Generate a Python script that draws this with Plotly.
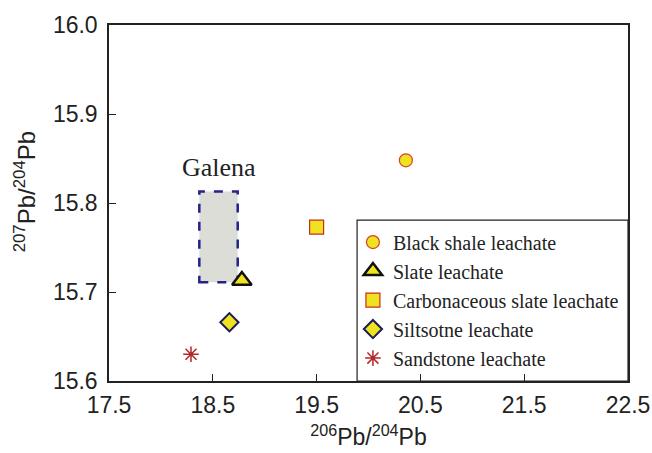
import plotly.graph_objects as go

names = ["Black shale leachate", "Slate leachate", "Carbonaceous slate leachate",
         "Siltsotne leachate", "Sandstone leachate"]
x_vals = [20.36, 18.78, 19.50, 18.66, 18.29]
y_vals = [15.848, 15.713, 15.773, 15.666, 15.630]
symbols = ["circle", "triangle-up", "square", "diamond", "asterisk-open"]
sizes = [13, 17, 14, 14, 13]
fills = ["#efe21e", "#efe21e", "#efe21e", "#efe21e", "#b3262a"]
lines = ["#d9402a", "#111111", "#cc2a22", "#1c1c5a", "#b3262a"]
lwidths = [1.2, 2.5, 1.2, 2, 1.5]

galena_x = [18.37, 18.74]
galena_y = [15.711, 15.813]
galena_label = "Galena"

x_ticks = [17.5, 18.5, 19.5, 20.5, 21.5, 22.5]
y_ticks = [15.6, 15.7, 15.8, 15.9, 16.0]

fig = go.Figure()
for i in range(len(names)):
    fig.add_trace(go.Scatter(
        x=[x_vals[i]], y=[y_vals[i]], mode="markers", name=names[i],
        marker=dict(symbol=symbols[i], size=sizes[i], color=fills[i],
                    line=dict(color=lines[i], width=lwidths[i]))))

fig.add_shape(type="rect", xref="x", yref="y",
              x0=galena_x[0], x1=galena_x[1], y0=galena_y[0], y1=galena_y[1],
              fillcolor="#dcddd6", line=dict(color="#23238a", width=2.5, dash="dash"),
              layer="below")
fig.add_annotation(x=(galena_x[0] + galena_x[1]) / 2, y=15.840, text=galena_label,
                   showarrow=False, xref="x", yref="y",
                   font=dict(family="Liberation Serif", size=26, color="#222"))

# legend box
fig.add_shape(type="rect", xref="paper", yref="paper", x0=0.478, x1=1.0, y0=0.0, y1=0.452,
              line=dict(color="#222", width=1.2), fillcolor="white", layer="below")

# y axis title
fig.add_annotation(xref="paper", yref="paper", x=0, y=0.53, xshift=-84,
                   xanchor="center", yanchor="middle",
                   text="<sup>207</sup>Pb/<sup>204</sup>Pb", textangle=-90, showarrow=False,
                   font=dict(family="Liberation Sans", size=24, color="#222"))

axis_common = dict(showline=True, linecolor="#222", linewidth=1.5, mirror=True,
                   ticks="inside", ticklen=7, tickcolor="#222", tickwidth=1.2,
                   showgrid=False, zeroline=False, automargin=False,
                   tickfont=dict(family="Liberation Sans", size=23, color="#222"))

fig.update_layout(
    width=652, height=453,
    margin=dict(l=109, r=24, t=25, b=72),
    plot_bgcolor="white", paper_bgcolor="white",
    xaxis=dict(range=[17.5, 22.5], tickvals=x_ticks, ticktext=[f"{v:.1f}" for v in x_ticks],
               ticklabelstandoff=3,
               title=dict(text="<sup>206</sup>Pb/<sup>204</sup>Pb", standoff=12,
                          font=dict(family="Liberation Sans", size=23, color="#222")),
               **axis_common),
    yaxis=dict(range=[15.6, 16.0], tickvals=y_ticks, ticktext=[f"{v:.1f}" for v in y_ticks],
               ticklabelstandoff=5,
               **axis_common),
    showlegend=True,
    legend=dict(x=0.47, y=0.445, xanchor="left", yanchor="top",
                bgcolor="rgba(0,0,0,0)", borderwidth=0,
                font=dict(family="Liberation Serif", size=20, color="#222"),
                itemwidth=30),
)

fig.write_html("out.html")
